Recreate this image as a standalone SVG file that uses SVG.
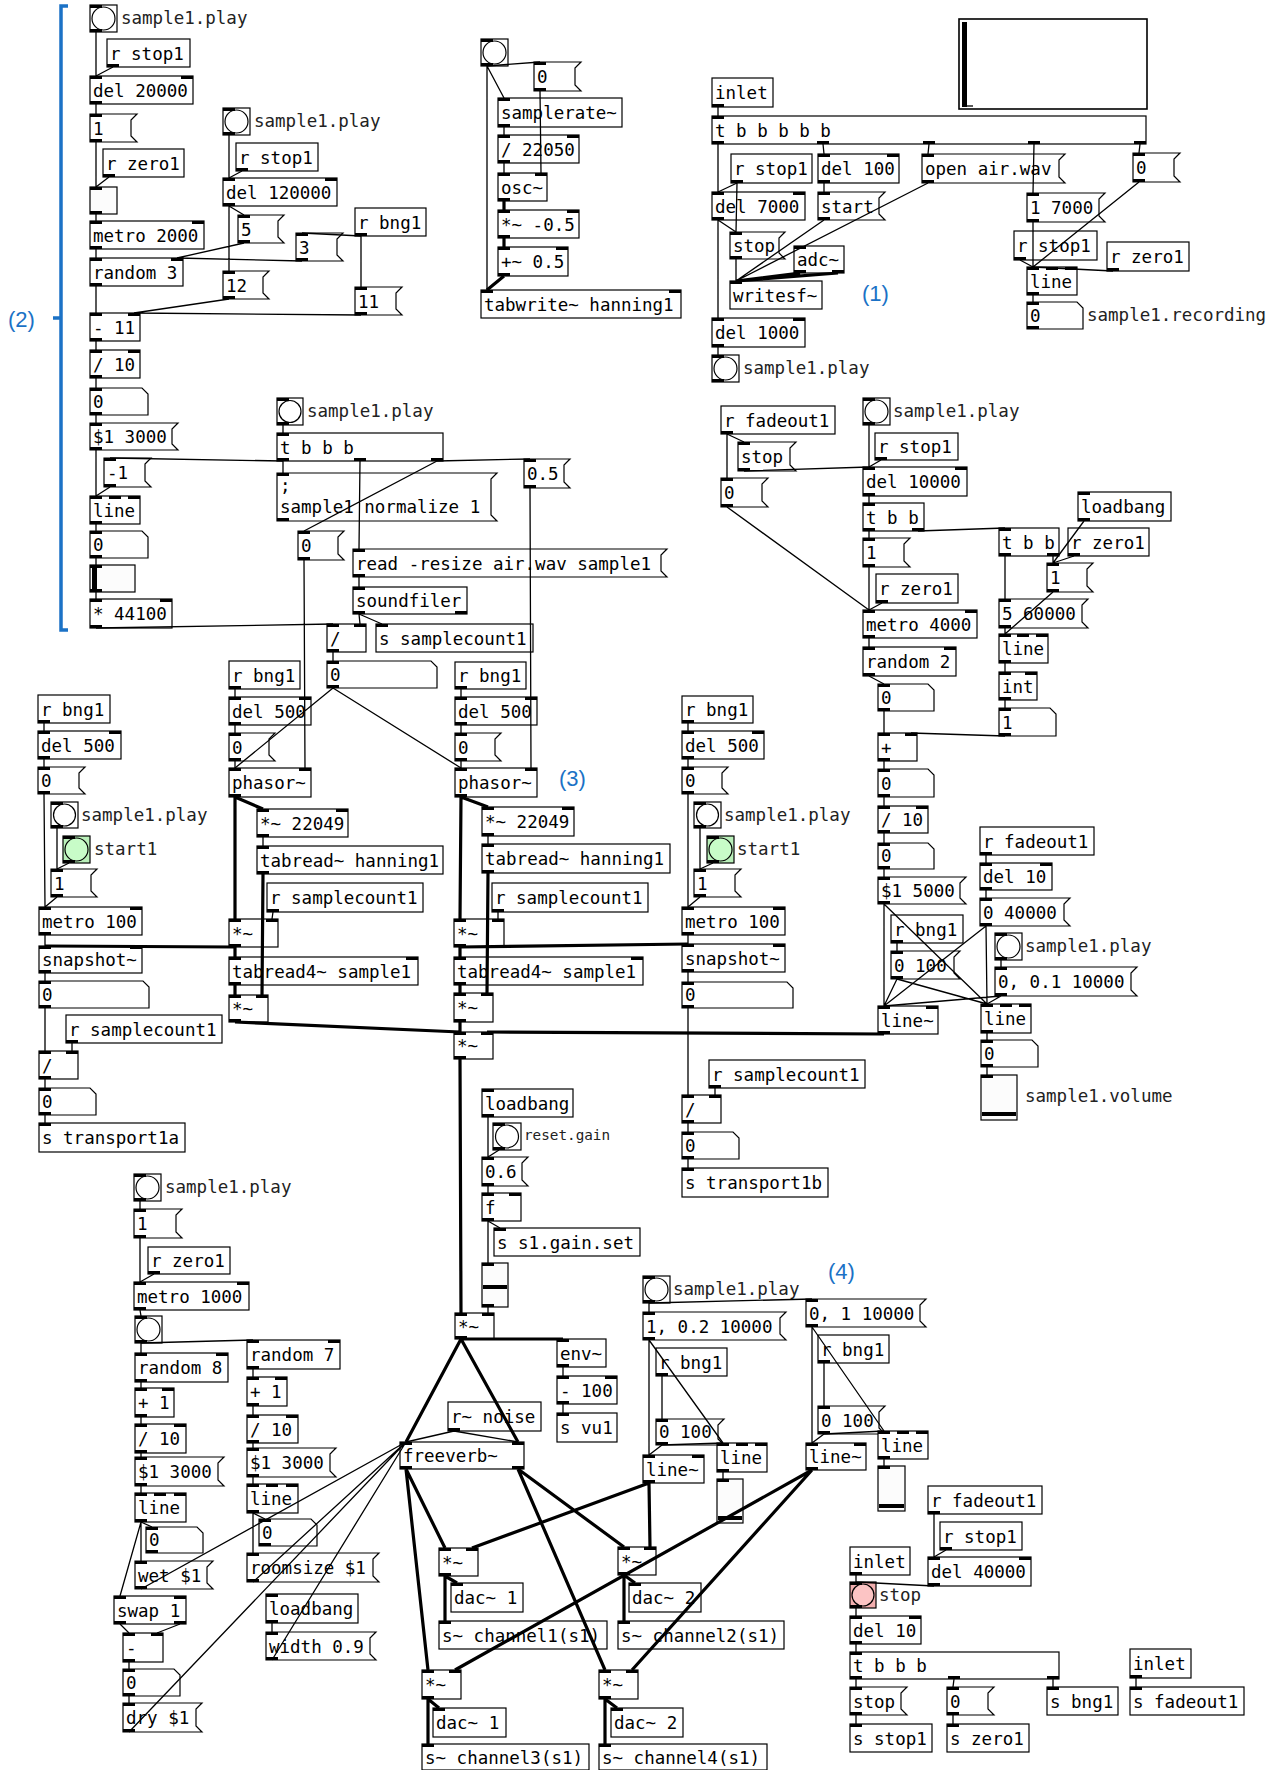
<svg xmlns="http://www.w3.org/2000/svg" xmlns:xlink="http://www.w3.org/1999/xlink" width="1283" height="1770" viewBox="0 0 1283 1770">
<style>
.o{fill:#fff;stroke:#000;stroke-width:1.2}
.i{fill:#000}
text{font-family:"DejaVu Sans Mono","Liberation Mono",monospace;font-size:17.5px;fill:#000}
.l{fill:#222}
.sm{font-size:14.3px}
.c{stroke:#000;stroke-width:1.3;fill:none}
.s{stroke:#000;stroke-width:3.2;fill:none}
.n{fill:#1b72c6;font-family:"Liberation Sans",Arial,sans-serif;font-size:22px}
.gb{fill:#b9efb9;stroke:#000;stroke-width:1.2}
.gc{fill:#c8fcc8;stroke:#000;stroke-width:1.2}
.rb{fill:#f2aeae;stroke:#000;stroke-width:1.2}
.rc{fill:#fcc4c4;stroke:#000;stroke-width:1.2}
</style>
<defs><rect id="p" class="i" width="12" height="3"/></defs>
<rect width="1283" height="1770" fill="#fff"/>
<g id="annotations">
<path d="M68 6H61V630H68M53 318H61" stroke="#1b72c6" stroke-width="3.5" fill="none"/>
<text class="n" x="8" y="327">(2)</text>
<text class="n" x="862" y="301">(1)</text>
<text class="n" x="559" y="786">(3)</text>
<text class="n" x="828" y="1279">(4)</text>
</g>
<g id="nodes">
<g id="n1"><rect class="o" x="90" y="5" width="27" height="27"/><circle class="o" cx="103.5" cy="18.5" r="11.5"/><use href="#p" x="90" y="5"/><use href="#p" x="90" y="29"/><text class="l" x="121" y="24">sample1.play</text></g>
<g id="n2"><rect class="o" x="107" y="39" width="83" height="28"/><text x="110" y="60">r stop1</text><use href="#p" x="107" y="64"/></g>
<g id="n3"><rect class="o" x="90" y="76" width="103" height="28"/><text x="93" y="97">del 20000</text><use href="#p" x="90" y="76"/><use href="#p" x="181" y="76"/><use href="#p" x="90" y="101"/></g>
<g id="n4"><path class="o" d="M90 114h47l-6 6v16l6 6H90z"/><text x="93" y="135">1</text><use href="#p" x="90" y="114"/><use href="#p" x="90" y="139"/></g>
<g id="n5"><rect class="o" x="103" y="149" width="81" height="28"/><text x="106" y="170">r zero1</text><use href="#p" x="103" y="174"/></g>
<g id="n6"><rect class="o" x="90" y="187" width="27" height="27" style="fill:#fcfcfc"/><use href="#p" x="90" y="187"/><use href="#p" x="90" y="211"/></g>
<g id="n7"><rect class="o" x="90" y="221" width="114" height="28"/><text x="93" y="242">metro 2000</text><use href="#p" x="90" y="221"/><use href="#p" x="192" y="221"/><use href="#p" x="90" y="246"/></g>
<g id="n8"><rect class="o" x="90" y="258" width="93" height="28"/><text x="93" y="279">random 3</text><use href="#p" x="90" y="258"/><use href="#p" x="171" y="258"/><use href="#p" x="90" y="283"/></g>
<g id="n9"><rect class="o" x="223" y="108" width="27" height="27"/><circle class="o" cx="236.5" cy="121.5" r="11.5"/><use href="#p" x="223" y="108"/><use href="#p" x="223" y="132"/><text class="l" x="254" y="127">sample1.play</text></g>
<g id="n10"><rect class="o" x="236" y="143" width="82" height="28"/><text x="239" y="164">r stop1</text><use href="#p" x="236" y="168"/></g>
<g id="n11"><rect class="o" x="223" y="178" width="114" height="28"/><text x="226" y="199">del 120000</text><use href="#p" x="223" y="178"/><use href="#p" x="325" y="178"/><use href="#p" x="223" y="203"/></g>
<g id="n12"><path class="o" d="M238 215h46l-6 6v16l6 6H238z"/><text x="241" y="236">5</text><use href="#p" x="238" y="215"/><use href="#p" x="238" y="240"/></g>
<g id="n13"><rect class="o" x="355" y="208" width="71" height="28"/><text x="358" y="229">r bng1</text><use href="#p" x="355" y="233"/></g>
<g id="n14"><path class="o" d="M296 233h47l-6 6v16l6 6H296z"/><text x="299" y="254">3</text><use href="#p" x="296" y="233"/><use href="#p" x="296" y="258"/></g>
<g id="n15"><path class="o" d="M223 271h46l-6 6v16l6 6H223z"/><text x="226" y="292">12</text><use href="#p" x="223" y="271"/><use href="#p" x="223" y="296"/></g>
<g id="n16"><path class="o" d="M355 287h47l-6 6v16l6 6H355z"/><text x="358" y="308">11</text><use href="#p" x="355" y="287"/><use href="#p" x="355" y="312"/></g>
<g id="n17"><rect class="o" x="90" y="313" width="50" height="28"/><text x="93" y="334">- 11</text><use href="#p" x="90" y="313"/><use href="#p" x="128" y="313"/><use href="#p" x="90" y="338"/></g>
<g id="n18"><rect class="o" x="90" y="350" width="50" height="28"/><text x="93" y="371">/ 10</text><use href="#p" x="90" y="350"/><use href="#p" x="128" y="350"/><use href="#p" x="90" y="375"/></g>
<g id="n19"><path class="o" d="M90 388h52l6 6v21H90z"/><text x="93" y="408">0</text><use href="#p" x="90" y="388"/><use href="#p" x="90" y="412"/></g>
<g id="n20"><path class="o" d="M90 423h88l-6 6v15l6 6H90z"/><text x="93" y="443">$1 3000</text><use href="#p" x="90" y="423"/><use href="#p" x="90" y="447"/></g>
<g id="n21"><path class="o" d="M104 458h47l-6 6v17l6 6H104z"/><text x="107" y="479">-1</text><use href="#p" x="104" y="458"/><use href="#p" x="104" y="484"/></g>
<g id="n22"><rect class="o" x="90" y="496" width="50" height="28"/><text x="93" y="517">line</text><use href="#p" x="90" y="496"/><use href="#p" x="109" y="496"/><use href="#p" x="128" y="496"/><use href="#p" x="90" y="521"/></g>
<g id="n23"><path class="o" d="M90 531h52l6 6v21H90z"/><text x="93" y="551">0</text><use href="#p" x="90" y="531"/><use href="#p" x="90" y="555"/></g>
<g id="n24"><rect class="o" x="90" y="565" width="45" height="27" style="fill:#fcfcfc"/><rect class="i" x="92" y="566" width="5" height="25"/><use href="#p" x="90" y="565"/><use href="#p" x="90" y="589"/></g>
<g id="n25"><rect class="o" x="90" y="599" width="82" height="29"/><text x="93" y="620">* 44100</text><use href="#p" x="90" y="599"/><use href="#p" x="160" y="599"/><use href="#p" x="90" y="625"/></g>
<g id="n26"><rect class="o" x="277" y="398" width="26" height="27"/><circle class="o" cx="290" cy="411.5" r="11"/><use href="#p" x="277" y="398"/><use href="#p" x="277" y="422"/><text class="l" x="307" y="417">sample1.play</text></g>
<g id="n27"><rect class="o" x="277" y="433" width="166" height="28"/><text x="280" y="454">t b b b</text><use href="#p" x="277" y="433"/><use href="#p" x="277" y="458"/><use href="#p" x="354" y="458"/><use href="#p" x="431" y="458"/></g>
<g id="n28"><path class="o" d="M277 473h220l-6 6v36l6 6H277z"/><text x="280" y="492">;</text><text x="280" y="513">sample1 normalize 1</text><use href="#p" x="277" y="473"/><use href="#p" x="277" y="518"/></g>
<g id="n29"><path class="o" d="M298 531h46l-6 6v17l6 6H298z"/><text x="301" y="552">0</text><use href="#p" x="298" y="531"/><use href="#p" x="298" y="557"/></g>
<g id="n30"><path class="o" d="M353 549h314l-6 6v16l6 6H353z"/><text x="356" y="570">read -resize air.wav sample1</text><use href="#p" x="353" y="549"/><use href="#p" x="353" y="574"/></g>
<g id="n31"><rect class="o" x="353" y="587" width="114" height="27"/><text x="356" y="607">soundfiler</text><use href="#p" x="353" y="587"/><use href="#p" x="353" y="611"/><use href="#p" x="455" y="611"/></g>
<g id="n32"><rect class="o" x="327" y="624" width="39" height="28"/><text x="330" y="645">/</text><use href="#p" x="327" y="624"/><use href="#p" x="354" y="624"/><use href="#p" x="327" y="649"/></g>
<g id="n33"><rect class="o" x="376" y="624" width="157" height="28"/><text x="379" y="645">s samplecount1</text><use href="#p" x="376" y="624"/></g>
<g id="n34"><path class="o" d="M327 661h104l6 6v21H327z"/><text x="330" y="681">0</text><use href="#p" x="327" y="661"/><use href="#p" x="327" y="685"/></g>
<g id="n35"><path class="o" d="M524 459h46l-6 6v17l6 6H524z"/><text x="527" y="480">0.5</text><use href="#p" x="524" y="459"/><use href="#p" x="524" y="485"/></g>
<g id="n36"><rect class="o" x="229" y="661" width="71" height="28"/><text x="232" y="682">r bng1</text><use href="#p" x="229" y="686"/></g>
<g id="n37"><rect class="o" x="229" y="697" width="82" height="28"/><text x="232" y="718">del 500</text><use href="#p" x="229" y="697"/><use href="#p" x="299" y="697"/><use href="#p" x="229" y="722"/></g>
<g id="n38"><path class="o" d="M229 733h46l-6 6v16l6 6H229z"/><text x="232" y="754">0</text><use href="#p" x="229" y="733"/><use href="#p" x="229" y="758"/></g>
<g id="n39"><rect class="o" x="229" y="768" width="82" height="29"/><text x="232" y="789">phasor~</text><use href="#p" x="229" y="768"/><use href="#p" x="299" y="768"/><use href="#p" x="229" y="794"/></g>
<g id="n40"><rect class="o" x="257" y="809" width="91" height="28"/><text x="260" y="830">*~ 22049</text><use href="#p" x="257" y="809"/><use href="#p" x="336" y="809"/><use href="#p" x="257" y="834"/></g>
<g id="n41"><rect class="o" x="257" y="846" width="186" height="28"/><text x="260" y="867">tabread~ hanning1</text><use href="#p" x="257" y="846"/><use href="#p" x="257" y="871"/></g>
<g id="n42"><rect class="o" x="267" y="883" width="156" height="29"/><text x="270" y="904">r samplecount1</text><use href="#p" x="267" y="909"/></g>
<g id="n43"><rect class="o" x="229" y="919" width="49" height="28"/><text x="232" y="940">*~</text><use href="#p" x="229" y="919"/><use href="#p" x="266" y="919"/><use href="#p" x="229" y="944"/></g>
<g id="n44"><rect class="o" x="229" y="957" width="189" height="28"/><text x="232" y="978">tabread4~ sample1</text><use href="#p" x="229" y="957"/><use href="#p" x="406" y="957"/><use href="#p" x="229" y="982"/></g>
<g id="n45"><rect class="o" x="229" y="995" width="39" height="27"/><text x="232" y="1015">*~</text><use href="#p" x="229" y="995"/><use href="#p" x="256" y="995"/><use href="#p" x="229" y="1019"/></g>
<g id="n46"><rect class="o" x="38" y="695" width="72" height="28"/><text x="41" y="716">r bng1</text><use href="#p" x="38" y="720"/></g>
<g id="n47"><rect class="o" x="38" y="731" width="83" height="28"/><text x="41" y="752">del 500</text><use href="#p" x="38" y="731"/><use href="#p" x="109" y="731"/><use href="#p" x="38" y="756"/></g>
<g id="n48"><path class="o" d="M38 767h47l-6 6v15l6 6H38z"/><text x="41" y="787">0</text><use href="#p" x="38" y="767"/><use href="#p" x="38" y="791"/></g>
<g id="n49"><rect class="o" x="51" y="802" width="27" height="26"/><circle class="o" cx="64.5" cy="815" r="11"/><use href="#p" x="51" y="802"/><use href="#p" x="51" y="825"/><text class="l" x="81" y="821">sample1.play</text></g>
<g id="n50"><rect class="gb" x="63" y="836" width="27" height="27"/><circle class="gc" cx="76.5" cy="849.5" r="11.5"/><use href="#p" x="63" y="836"/><use href="#p" x="63" y="860"/><text class="l" x="94" y="855">start1</text></g>
<g id="n51"><path class="o" d="M51 869h46l-6 6v16l6 6H51z"/><text x="54" y="890">1</text><use href="#p" x="51" y="869"/><use href="#p" x="51" y="894"/></g>
<g id="n52"><rect class="o" x="39" y="907" width="103" height="28"/><text x="42" y="928">metro 100</text><use href="#p" x="39" y="907"/><use href="#p" x="130" y="907"/><use href="#p" x="39" y="932"/></g>
<g id="n53"><rect class="o" x="39" y="946" width="103" height="27"/><text x="42" y="966">snapshot~</text><use href="#p" x="39" y="946"/><use href="#p" x="130" y="946"/><use href="#p" x="39" y="970"/></g>
<g id="n54"><path class="o" d="M39 981h104l6 6v21H39z"/><text x="42" y="1001">0</text><use href="#p" x="39" y="981"/><use href="#p" x="39" y="1005"/></g>
<g id="n55"><rect class="o" x="66" y="1015" width="156" height="28"/><text x="69" y="1036">r samplecount1</text><use href="#p" x="66" y="1040"/></g>
<g id="n56"><rect class="o" x="39" y="1051" width="39" height="28"/><text x="42" y="1072">/</text><use href="#p" x="39" y="1051"/><use href="#p" x="66" y="1051"/><use href="#p" x="39" y="1076"/></g>
<g id="n57"><path class="o" d="M39 1088h51l6 6v21H39z"/><text x="42" y="1108">0</text><use href="#p" x="39" y="1088"/><use href="#p" x="39" y="1112"/></g>
<g id="n58"><rect class="o" x="39" y="1123" width="146" height="29"/><text x="42" y="1144">s transport1a</text><use href="#p" x="39" y="1123"/></g>
<g id="n59"><rect class="o" x="455" y="662" width="71" height="27"/><text x="458" y="682">r bng1</text><use href="#p" x="455" y="686"/></g>
<g id="n60"><rect class="o" x="455" y="697" width="82" height="28"/><text x="458" y="718">del 500</text><use href="#p" x="455" y="697"/><use href="#p" x="525" y="697"/><use href="#p" x="455" y="722"/></g>
<g id="n61"><path class="o" d="M455 733h46l-6 6v16l6 6H455z"/><text x="458" y="754">0</text><use href="#p" x="455" y="733"/><use href="#p" x="455" y="758"/></g>
<g id="n62"><rect class="o" x="455" y="768" width="82" height="29"/><text x="458" y="789">phasor~</text><use href="#p" x="455" y="768"/><use href="#p" x="525" y="768"/><use href="#p" x="455" y="794"/></g>
<g id="n63"><rect class="o" x="482" y="807" width="92" height="29"/><text x="485" y="828">*~ 22049</text><use href="#p" x="482" y="807"/><use href="#p" x="562" y="807"/><use href="#p" x="482" y="833"/></g>
<g id="n64"><rect class="o" x="482" y="844" width="188" height="29"/><text x="485" y="865">tabread~ hanning1</text><use href="#p" x="482" y="844"/><use href="#p" x="482" y="870"/></g>
<g id="n65"><rect class="o" x="492" y="883" width="156" height="29"/><text x="495" y="904">r samplecount1</text><use href="#p" x="492" y="909"/></g>
<g id="n66"><rect class="o" x="454" y="919" width="50" height="28"/><text x="457" y="940">*~</text><use href="#p" x="454" y="919"/><use href="#p" x="492" y="919"/><use href="#p" x="454" y="944"/></g>
<g id="n67"><rect class="o" x="454" y="957" width="189" height="28"/><text x="457" y="978">tabread4~ sample1</text><use href="#p" x="454" y="957"/><use href="#p" x="631" y="957"/><use href="#p" x="454" y="982"/></g>
<g id="n68"><rect class="o" x="454" y="993" width="39" height="29"/><text x="457" y="1014">*~</text><use href="#p" x="454" y="993"/><use href="#p" x="481" y="993"/><use href="#p" x="454" y="1019"/></g>
<g id="n69"><rect class="o" x="454" y="1032" width="39" height="27"/><text x="457" y="1052">*~</text><use href="#p" x="454" y="1032"/><use href="#p" x="481" y="1032"/><use href="#p" x="454" y="1056"/></g>
<g id="n70"><rect class="o" x="682" y="696" width="71" height="27"/><text x="685" y="716">r bng1</text><use href="#p" x="682" y="720"/></g>
<g id="n71"><rect class="o" x="682" y="731" width="82" height="28"/><text x="685" y="752">del 500</text><use href="#p" x="682" y="731"/><use href="#p" x="752" y="731"/><use href="#p" x="682" y="756"/></g>
<g id="n72"><path class="o" d="M682 767h46l-6 6v15l6 6H682z"/><text x="685" y="787">0</text><use href="#p" x="682" y="767"/><use href="#p" x="682" y="791"/></g>
<g id="n73"><rect class="o" x="694" y="802" width="27" height="26"/><circle class="o" cx="707.5" cy="815" r="11"/><use href="#p" x="694" y="802"/><use href="#p" x="694" y="825"/><text class="l" x="724" y="821">sample1.play</text></g>
<g id="n74"><rect class="gb" x="707" y="836" width="27" height="27"/><circle class="gc" cx="720.5" cy="849.5" r="11.5"/><use href="#p" x="707" y="836"/><use href="#p" x="707" y="860"/><text class="l" x="737" y="855">start1</text></g>
<g id="n75"><path class="o" d="M694 869h47l-6 6v16l6 6H694z"/><text x="697" y="890">1</text><use href="#p" x="694" y="869"/><use href="#p" x="694" y="894"/></g>
<g id="n76"><rect class="o" x="682" y="907" width="103" height="28"/><text x="685" y="928">metro 100</text><use href="#p" x="682" y="907"/><use href="#p" x="773" y="907"/><use href="#p" x="682" y="932"/></g>
<g id="n77"><rect class="o" x="682" y="944" width="103" height="28"/><text x="685" y="965">snapshot~</text><use href="#p" x="682" y="944"/><use href="#p" x="773" y="944"/><use href="#p" x="682" y="969"/></g>
<g id="n78"><path class="o" d="M682 982h105l6 6v20H682z"/><text x="685" y="1001">0</text><use href="#p" x="682" y="982"/><use href="#p" x="682" y="1005"/></g>
<g id="n79"><rect class="o" x="709" y="1060" width="156" height="28"/><text x="712" y="1081">r samplecount1</text><use href="#p" x="709" y="1085"/></g>
<g id="n80"><rect class="o" x="682" y="1095" width="39" height="28"/><text x="685" y="1116">/</text><use href="#p" x="682" y="1095"/><use href="#p" x="709" y="1095"/><use href="#p" x="682" y="1120"/></g>
<g id="n81"><path class="o" d="M682 1132h51l6 6v21H682z"/><text x="685" y="1152">0</text><use href="#p" x="682" y="1132"/><use href="#p" x="682" y="1156"/></g>
<g id="n82"><rect class="o" x="682" y="1168" width="146" height="29"/><text x="685" y="1189">s transport1b</text><use href="#p" x="682" y="1168"/></g>
<g id="n83"><rect class="o" x="482" y="1089" width="91" height="28"/><text x="485" y="1110">loadbang</text><use href="#p" x="482" y="1089"/><use href="#p" x="482" y="1114"/></g>
<g id="n84"><rect class="o" x="493" y="1123" width="28" height="27"/><circle class="o" cx="507" cy="1136.5" r="11.5"/><use href="#p" x="493" y="1123"/><use href="#p" x="493" y="1147"/><text class="l sm" x="524" y="1140">reset.gain</text></g>
<g id="n85"><path class="o" d="M482 1157h46l-6 6v17l6 6H482z"/><text x="485" y="1178">0.6</text><use href="#p" x="482" y="1157"/><use href="#p" x="482" y="1183"/></g>
<g id="n86"><rect class="o" x="482" y="1193" width="39" height="28"/><text x="485" y="1214">f</text><use href="#p" x="482" y="1193"/><use href="#p" x="509" y="1193"/><use href="#p" x="482" y="1218"/></g>
<g id="n87"><rect class="o" x="494" y="1228" width="146" height="28"/><text x="497" y="1249">s s1.gain.set</text><use href="#p" x="494" y="1228"/></g>
<g id="n88"><rect class="o" x="482" y="1263" width="26" height="44" style="fill:#fcfcfc"/><rect class="i" x="483" y="1285" width="24" height="4"/><use href="#p" x="482" y="1263"/><use href="#p" x="482" y="1304"/></g>
<g id="n89"><rect class="o" x="455" y="1313" width="39" height="26"/><text x="458" y="1333">*~</text><use href="#p" x="455" y="1313"/><use href="#p" x="482" y="1313"/><use href="#p" x="455" y="1336"/></g>
<g id="n90"><rect class="o" x="557" y="1339" width="49" height="28"/><text x="560" y="1360">env~</text><use href="#p" x="557" y="1339"/><use href="#p" x="557" y="1364"/></g>
<g id="n91"><rect class="o" x="557" y="1376" width="60" height="28"/><text x="560" y="1397">- 100</text><use href="#p" x="557" y="1376"/><use href="#p" x="605" y="1376"/><use href="#p" x="557" y="1401"/></g>
<g id="n92"><rect class="o" x="557" y="1413" width="60" height="29"/><text x="560" y="1434">s vu1</text><use href="#p" x="557" y="1413"/></g>
<g id="n93"><rect class="o" x="448" y="1402" width="93" height="29"/><text x="451" y="1423">r~ noise</text><use href="#p" x="448" y="1428"/></g>
<g id="n94"><rect class="o" x="400" y="1442" width="124" height="27"/><text x="403" y="1462">freeverb~</text><use href="#p" x="400" y="1442"/><use href="#p" x="512" y="1442"/><use href="#p" x="400" y="1466"/><use href="#p" x="512" y="1466"/></g>
<g id="n95"><rect class="o" x="481" y="39" width="27" height="27"/><circle class="o" cx="494.5" cy="52.5" r="11.5"/><use href="#p" x="481" y="39"/><use href="#p" x="481" y="63"/></g>
<g id="n96"><path class="o" d="M534 62h47l-6 6v17l6 6H534z"/><text x="537" y="83">0</text><use href="#p" x="534" y="62"/><use href="#p" x="534" y="88"/></g>
<g id="n97"><rect class="o" x="498" y="98" width="124" height="29"/><text x="501" y="119">samplerate~</text><use href="#p" x="498" y="98"/><use href="#p" x="498" y="124"/></g>
<g id="n98"><rect class="o" x="498" y="135" width="81" height="28"/><text x="501" y="156">/ 22050</text><use href="#p" x="498" y="135"/><use href="#p" x="567" y="135"/><use href="#p" x="498" y="160"/></g>
<g id="n99"><rect class="o" x="498" y="173" width="49" height="28"/><text x="501" y="194">osc~</text><use href="#p" x="498" y="173"/><use href="#p" x="535" y="173"/><use href="#p" x="498" y="198"/></g>
<g id="n100"><rect class="o" x="498" y="210" width="81" height="28"/><text x="501" y="231">*~ -0.5</text><use href="#p" x="498" y="210"/><use href="#p" x="567" y="210"/><use href="#p" x="498" y="235"/></g>
<g id="n101"><rect class="o" x="498" y="247" width="70" height="29"/><text x="501" y="268">+~ 0.5</text><use href="#p" x="498" y="247"/><use href="#p" x="556" y="247"/><use href="#p" x="498" y="273"/></g>
<g id="n102"><rect class="o" x="481" y="290" width="200" height="28"/><text x="484" y="311">tabwrite~ hanning1</text><use href="#p" x="481" y="290"/><use href="#p" x="669" y="290"/></g>
<g id="n103"><rect class="o" x="712" y="78" width="61" height="29"/><text x="715" y="99">inlet</text><use href="#p" x="712" y="104"/></g>
<g id="n104"><rect class="o" x="712" y="116" width="434" height="28"/><text x="715" y="137">t b b b b b</text><use href="#p" x="712" y="116"/><use href="#p" x="712" y="141"/><use href="#p" x="817" y="141"/><use href="#p" x="923" y="141"/><use href="#p" x="1028" y="141"/><use href="#p" x="1134" y="141"/></g>
<g id="n105"><rect class="o" x="731" y="154" width="81" height="29"/><text x="734" y="175">r stop1</text><use href="#p" x="731" y="180"/></g>
<g id="n106"><rect class="o" x="818" y="154" width="81" height="29"/><text x="821" y="175">del 100</text><use href="#p" x="818" y="154"/><use href="#p" x="887" y="154"/><use href="#p" x="818" y="180"/></g>
<g id="n107"><rect class="o" x="712" y="192" width="93" height="28"/><text x="715" y="213">del 7000</text><use href="#p" x="712" y="192"/><use href="#p" x="793" y="192"/><use href="#p" x="712" y="217"/></g>
<g id="n108"><path class="o" d="M818 192h67l-6 6v16l6 6H818z"/><text x="821" y="213">start</text><use href="#p" x="818" y="192"/><use href="#p" x="818" y="217"/></g>
<g id="n109"><path class="o" d="M922 154h143l-6 6v17l6 6H922z"/><text x="925" y="175">open air.wav</text><use href="#p" x="922" y="154"/><use href="#p" x="922" y="180"/></g>
<g id="n110"><path class="o" d="M1133 153h47l-6 6v17l6 6H1133z"/><text x="1136" y="174">0</text><use href="#p" x="1133" y="153"/><use href="#p" x="1133" y="179"/></g>
<g id="n111"><path class="o" d="M730 232h55l-6 6v15l6 6H730z"/><text x="733" y="252">stop</text><use href="#p" x="730" y="232"/><use href="#p" x="730" y="256"/></g>
<g id="n112"><rect class="o" x="794" y="246" width="50" height="27"/><text x="797" y="266">adc~</text><use href="#p" x="794" y="246"/><use href="#p" x="794" y="270"/><use href="#p" x="832" y="270"/></g>
<g id="n113"><rect class="o" x="730" y="281" width="92" height="28"/><text x="733" y="302">writesf~</text><use href="#p" x="730" y="281"/></g>
<g id="n114"><rect class="o" x="712" y="318" width="93" height="29"/><text x="715" y="339">del 1000</text><use href="#p" x="712" y="318"/><use href="#p" x="793" y="318"/><use href="#p" x="712" y="344"/></g>
<g id="n115"><rect class="o" x="712" y="355" width="27" height="27"/><circle class="o" cx="725.5" cy="368.5" r="11.5"/><use href="#p" x="712" y="355"/><use href="#p" x="712" y="379"/><text class="l" x="743" y="374">sample1.play</text></g>
<g id="n116"><path class="o" d="M1027 193h78l-6 6v17l6 6H1027z"/><text x="1030" y="214">1 7000</text><use href="#p" x="1027" y="193"/><use href="#p" x="1027" y="219"/></g>
<g id="n117"><rect class="o" x="1014" y="231" width="83" height="29"/><text x="1017" y="252">r stop1</text><use href="#p" x="1014" y="257"/></g>
<g id="n118"><rect class="o" x="1107" y="242" width="82" height="29"/><text x="1110" y="263">r zero1</text><use href="#p" x="1107" y="268"/></g>
<g id="n119"><rect class="o" x="1027" y="267" width="50" height="28"/><text x="1030" y="288">line</text><use href="#p" x="1027" y="267"/><use href="#p" x="1046" y="267"/><use href="#p" x="1065" y="267"/><use href="#p" x="1027" y="292"/></g>
<g id="n120"><path class="o" d="M1027 302h50l6 6v21H1027z"/><text x="1030" y="322">0</text><use href="#p" x="1027" y="302"/><use href="#p" x="1027" y="326"/><text class="l" x="1087" y="321">sample1.recording</text></g>
<g id="n121"><rect class="o" x="959" y="19" width="188" height="90" style="stroke-width:1.6"/><rect class="i" x="962" y="22" width="5" height="85"/><path d="M967 106H973" class="c"/></g>
<g id="n122"><rect class="o" x="721" y="406" width="114" height="28"/><text x="724" y="427">r fadeout1</text><use href="#p" x="721" y="431"/></g>
<g id="n123"><path class="o" d="M738 442h58l-6 6v17l6 6H738z"/><text x="741" y="463">stop</text><use href="#p" x="738" y="442"/><use href="#p" x="738" y="468"/></g>
<g id="n124"><path class="o" d="M721 478h47l-6 6v17l6 6H721z"/><text x="724" y="499">0</text><use href="#p" x="721" y="478"/><use href="#p" x="721" y="504"/></g>
<g id="n125"><rect class="o" x="863" y="398" width="27" height="27"/><circle class="o" cx="876.5" cy="411.5" r="11.5"/><use href="#p" x="863" y="398"/><use href="#p" x="863" y="422"/><text class="l" x="893" y="417">sample1.play</text></g>
<g id="n126"><rect class="o" x="875" y="433" width="83" height="27"/><text x="878" y="453">r stop1</text><use href="#p" x="875" y="457"/></g>
<g id="n127"><rect class="o" x="863" y="467" width="104" height="29"/><text x="866" y="488">del 10000</text><use href="#p" x="863" y="467"/><use href="#p" x="955" y="467"/><use href="#p" x="863" y="493"/></g>
<g id="n128"><rect class="o" x="863" y="503" width="61" height="28"/><text x="866" y="524">t b b</text><use href="#p" x="863" y="503"/><use href="#p" x="863" y="528"/><use href="#p" x="912" y="528"/></g>
<g id="n129"><path class="o" d="M863 538h47l-6 6v17l6 6H863z"/><text x="866" y="559">1</text><use href="#p" x="863" y="538"/><use href="#p" x="863" y="564"/></g>
<g id="n130"><rect class="o" x="876" y="574" width="82" height="29"/><text x="879" y="595">r zero1</text><use href="#p" x="876" y="600"/></g>
<g id="n131"><rect class="o" x="863" y="610" width="114" height="28"/><text x="866" y="631">metro 4000</text><use href="#p" x="863" y="610"/><use href="#p" x="965" y="610"/><use href="#p" x="863" y="635"/></g>
<g id="n132"><rect class="o" x="863" y="647" width="93" height="29"/><text x="866" y="668">random 2</text><use href="#p" x="863" y="647"/><use href="#p" x="944" y="647"/><use href="#p" x="863" y="673"/></g>
<g id="n133"><path class="o" d="M878 684h50l6 6v21H878z"/><text x="881" y="704">0</text><use href="#p" x="878" y="684"/><use href="#p" x="878" y="708"/></g>
<g id="n134"><rect class="o" x="878" y="733" width="39" height="28"/><text x="881" y="754">+</text><use href="#p" x="878" y="733"/><use href="#p" x="905" y="733"/><use href="#p" x="878" y="758"/></g>
<g id="n135"><path class="o" d="M878 769h50l6 6v22H878z"/><text x="881" y="790">0</text><use href="#p" x="878" y="769"/><use href="#p" x="878" y="794"/></g>
<g id="n136"><rect class="o" x="878" y="806" width="50" height="27"/><text x="881" y="826">/ 10</text><use href="#p" x="878" y="806"/><use href="#p" x="916" y="806"/><use href="#p" x="878" y="830"/></g>
<g id="n137"><path class="o" d="M878 843h50l6 6v20H878z"/><text x="881" y="862">0</text><use href="#p" x="878" y="843"/><use href="#p" x="878" y="866"/></g>
<g id="n138"><path class="o" d="M878 877h88l-6 6v15l6 6H878z"/><text x="881" y="897">$1 5000</text><use href="#p" x="878" y="877"/><use href="#p" x="878" y="901"/></g>
<g id="n139"><rect class="o" x="1078" y="492" width="93" height="29"/><text x="1081" y="513">loadbang</text><use href="#p" x="1078" y="492"/><use href="#p" x="1078" y="518"/></g>
<g id="n140"><rect class="o" x="999" y="528" width="60" height="28"/><text x="1002" y="549">t b b</text><use href="#p" x="999" y="528"/><use href="#p" x="999" y="553"/><use href="#p" x="1047" y="553"/></g>
<g id="n141"><rect class="o" x="1068" y="528" width="81" height="28"/><text x="1071" y="549">r zero1</text><use href="#p" x="1068" y="553"/></g>
<g id="n142"><path class="o" d="M1047 563h46l-6 6v17l6 6H1047z"/><text x="1050" y="584">1</text><use href="#p" x="1047" y="563"/><use href="#p" x="1047" y="589"/></g>
<g id="n143"><path class="o" d="M999 599h89l-6 6v17l6 6H999z"/><text x="1002" y="620">5 60000</text><use href="#p" x="999" y="599"/><use href="#p" x="999" y="625"/></g>
<g id="n144"><rect class="o" x="999" y="634" width="49" height="29"/><text x="1002" y="655">line</text><use href="#p" x="999" y="634"/><use href="#p" x="1017" y="634"/><use href="#p" x="1036" y="634"/><use href="#p" x="999" y="660"/></g>
<g id="n145"><rect class="o" x="999" y="672" width="38" height="28"/><text x="1002" y="693">int</text><use href="#p" x="999" y="672"/><use href="#p" x="1025" y="672"/><use href="#p" x="999" y="697"/></g>
<g id="n146"><path class="o" d="M999 708h51l6 6v22H999z"/><text x="1002" y="729">1</text><use href="#p" x="999" y="708"/><use href="#p" x="999" y="733"/></g>
<g id="n147"><rect class="o" x="980" y="827" width="114" height="28"/><text x="983" y="848">r fadeout1</text><use href="#p" x="980" y="852"/></g>
<g id="n148"><rect class="o" x="980" y="863" width="72" height="27"/><text x="983" y="883">del 10</text><use href="#p" x="980" y="863"/><use href="#p" x="1040" y="863"/><use href="#p" x="980" y="887"/></g>
<g id="n149"><path class="o" d="M980 898h90l-6 6v16l6 6H980z"/><text x="983" y="919">0 40000</text><use href="#p" x="980" y="898"/><use href="#p" x="980" y="923"/></g>
<g id="n150"><rect class="o" x="891" y="915" width="72" height="28"/><text x="894" y="936">r bng1</text><use href="#p" x="891" y="940"/></g>
<g id="n151"><path class="o" d="M891 951h69l-6 6v16l6 6H891z"/><text x="894" y="972">0 100</text><use href="#p" x="891" y="951"/><use href="#p" x="891" y="976"/></g>
<g id="n152"><rect class="o" x="995" y="933" width="27" height="27"/><circle class="o" cx="1008.5" cy="946.5" r="11.5"/><use href="#p" x="995" y="933"/><use href="#p" x="995" y="957"/><text class="l" x="1025" y="952">sample1.play</text></g>
<g id="n153"><path class="o" d="M995 967h142l-6 6v17l6 6H995z"/><text x="998" y="988">0, 0.1 10000</text><use href="#p" x="995" y="967"/><use href="#p" x="995" y="993"/></g>
<g id="n154"><rect class="o" x="878" y="1006" width="60" height="28"/><text x="881" y="1027">line~</text><use href="#p" x="878" y="1006"/><use href="#p" x="926" y="1006"/><use href="#p" x="878" y="1031"/></g>
<g id="n155"><rect class="o" x="981" y="1004" width="50" height="29"/><text x="984" y="1025">line</text><use href="#p" x="981" y="1004"/><use href="#p" x="1000" y="1004"/><use href="#p" x="1019" y="1004"/><use href="#p" x="981" y="1030"/></g>
<g id="n156"><path class="o" d="M981 1040h51l6 6v21H981z"/><text x="984" y="1060">0</text><use href="#p" x="981" y="1040"/><use href="#p" x="981" y="1064"/></g>
<g id="n157"><rect class="o" x="981" y="1075" width="36" height="45" style="fill:#fcfcfc"/><rect class="i" x="982" y="1112" width="34" height="4"/><use href="#p" x="981" y="1075"/><text class="l" x="1025" y="1102">sample1.volume</text></g>
<g id="n158"><rect class="o" x="134" y="1174" width="27" height="27"/><circle class="o" cx="147.5" cy="1187.5" r="11.5"/><use href="#p" x="134" y="1174"/><use href="#p" x="134" y="1198"/><text class="l" x="165" y="1193">sample1.play</text></g>
<g id="n159"><path class="o" d="M134 1209h48l-6 6v17l6 6H134z"/><text x="137" y="1230">1</text><use href="#p" x="134" y="1209"/><use href="#p" x="134" y="1235"/></g>
<g id="n160"><rect class="o" x="148" y="1247" width="82" height="27"/><text x="151" y="1267">r zero1</text><use href="#p" x="148" y="1271"/></g>
<g id="n161"><rect class="o" x="134" y="1282" width="115" height="28"/><text x="137" y="1303">metro 1000</text><use href="#p" x="134" y="1282"/><use href="#p" x="237" y="1282"/><use href="#p" x="134" y="1307"/></g>
<g id="n162"><rect class="o" x="135" y="1316" width="27" height="27"/><circle class="o" cx="148.5" cy="1329.5" r="11.5"/><use href="#p" x="135" y="1316"/><use href="#p" x="135" y="1340"/></g>
<g id="n163"><rect class="o" x="135" y="1353" width="93" height="29"/><text x="138" y="1374">random 8</text><use href="#p" x="135" y="1353"/><use href="#p" x="216" y="1353"/><use href="#p" x="135" y="1379"/></g>
<g id="n164"><rect class="o" x="247" y="1340" width="93" height="29"/><text x="250" y="1361">random 7</text><use href="#p" x="247" y="1340"/><use href="#p" x="328" y="1340"/><use href="#p" x="247" y="1366"/></g>
<g id="n165"><rect class="o" x="135" y="1388" width="39" height="29"/><text x="138" y="1409">+ 1</text><use href="#p" x="135" y="1388"/><use href="#p" x="162" y="1388"/><use href="#p" x="135" y="1414"/></g>
<g id="n166"><rect class="o" x="135" y="1424" width="51" height="29"/><text x="138" y="1445">/ 10</text><use href="#p" x="135" y="1424"/><use href="#p" x="174" y="1424"/><use href="#p" x="135" y="1450"/></g>
<g id="n167"><path class="o" d="M135 1457h89l-6 6v17l6 6H135z"/><text x="138" y="1478">$1 3000</text><use href="#p" x="135" y="1457"/><use href="#p" x="135" y="1483"/></g>
<g id="n168"><rect class="o" x="135" y="1493" width="51" height="29"/><text x="138" y="1514">line</text><use href="#p" x="135" y="1493"/><use href="#p" x="154" y="1493"/><use href="#p" x="174" y="1493"/><use href="#p" x="135" y="1519"/></g>
<g id="n169"><path class="o" d="M146 1527h51l6 6v20H146z"/><text x="149" y="1546">0</text><use href="#p" x="146" y="1527"/><use href="#p" x="146" y="1550"/></g>
<g id="n170"><path class="o" d="M135 1561h78l-6 6v16l6 6H135z"/><text x="138" y="1582">wet $1</text><use href="#p" x="135" y="1561"/><use href="#p" x="135" y="1586"/></g>
<g id="n171"><rect class="o" x="114" y="1596" width="72" height="28"/><text x="117" y="1617">swap 1</text><use href="#p" x="114" y="1596"/><use href="#p" x="174" y="1596"/><use href="#p" x="114" y="1621"/><use href="#p" x="174" y="1621"/></g>
<g id="n172"><rect class="o" x="123" y="1633" width="40" height="29"/><text x="126" y="1654">-</text><use href="#p" x="123" y="1633"/><use href="#p" x="151" y="1633"/><use href="#p" x="123" y="1659"/></g>
<g id="n173"><path class="o" d="M123 1669h51l6 6v21H123z"/><text x="126" y="1689">0</text><use href="#p" x="123" y="1669"/><use href="#p" x="123" y="1693"/></g>
<g id="n174"><path class="o" d="M123 1703h79l-6 6v17l6 6H123z"/><text x="126" y="1724">dry $1</text><use href="#p" x="123" y="1703"/><use href="#p" x="123" y="1729"/></g>
<g id="n175"><rect class="o" x="247" y="1377" width="40" height="29"/><text x="250" y="1398">+ 1</text><use href="#p" x="247" y="1377"/><use href="#p" x="275" y="1377"/><use href="#p" x="247" y="1403"/></g>
<g id="n176"><rect class="o" x="247" y="1415" width="51" height="28"/><text x="250" y="1436">/ 10</text><use href="#p" x="247" y="1415"/><use href="#p" x="286" y="1415"/><use href="#p" x="247" y="1440"/></g>
<g id="n177"><path class="o" d="M247 1448h89l-6 6v17l6 6H247z"/><text x="250" y="1469">$1 3000</text><use href="#p" x="247" y="1448"/><use href="#p" x="247" y="1474"/></g>
<g id="n178"><rect class="o" x="247" y="1484" width="51" height="29"/><text x="250" y="1505">line</text><use href="#p" x="247" y="1484"/><use href="#p" x="266" y="1484"/><use href="#p" x="286" y="1484"/><use href="#p" x="247" y="1510"/></g>
<g id="n179"><path class="o" d="M259 1519h52l6 6v21H259z"/><text x="262" y="1539">0</text><use href="#p" x="259" y="1519"/><use href="#p" x="259" y="1543"/></g>
<g id="n180"><path class="o" d="M247 1553h132l-6 6v17l6 6H247z"/><text x="250" y="1574">roomsize $1</text><use href="#p" x="247" y="1553"/><use href="#p" x="247" y="1579"/></g>
<g id="n181"><rect class="o" x="266" y="1594" width="92" height="29"/><text x="269" y="1615">loadbang</text><use href="#p" x="266" y="1594"/><use href="#p" x="266" y="1620"/></g>
<g id="n182"><path class="o" d="M266 1632h110l-6 6v16l6 6H266z"/><text x="269" y="1653">width 0.9</text><use href="#p" x="266" y="1632"/><use href="#p" x="266" y="1657"/></g>
<g id="n183"><rect class="o" x="439" y="1548" width="39" height="28"/><text x="442" y="1569">*~</text><use href="#p" x="439" y="1548"/><use href="#p" x="466" y="1548"/><use href="#p" x="439" y="1573"/></g>
<g id="n184"><rect class="o" x="451" y="1583" width="72" height="29"/><text x="454" y="1604">dac~ 1</text><use href="#p" x="451" y="1583"/></g>
<g id="n185"><rect class="o" x="439" y="1621" width="168" height="28"/><text x="442" y="1642">s~ channel1(s1)</text><use href="#p" x="439" y="1621"/></g>
<g id="n186"><rect class="o" x="618" y="1547" width="38" height="28"/><text x="621" y="1568">*~</text><use href="#p" x="618" y="1547"/><use href="#p" x="644" y="1547"/><use href="#p" x="618" y="1572"/></g>
<g id="n187"><rect class="o" x="629" y="1583" width="72" height="29"/><text x="632" y="1604">dac~ 2</text><use href="#p" x="629" y="1583"/></g>
<g id="n188"><rect class="o" x="618" y="1621" width="166" height="28"/><text x="621" y="1642">s~ channel2(s1)</text><use href="#p" x="618" y="1621"/></g>
<g id="n189"><rect class="o" x="422" y="1670" width="39" height="29"/><text x="425" y="1691">*~</text><use href="#p" x="422" y="1670"/><use href="#p" x="449" y="1670"/><use href="#p" x="422" y="1696"/></g>
<g id="n190"><rect class="o" x="433" y="1708" width="73" height="29"/><text x="436" y="1729">dac~ 1</text><use href="#p" x="433" y="1708"/></g>
<g id="n191"><rect class="o" x="422" y="1744" width="167" height="26"/><text x="425" y="1764">s~ channel3(s1)</text><use href="#p" x="422" y="1744"/></g>
<g id="n192"><rect class="o" x="599" y="1670" width="39" height="29"/><text x="602" y="1691">*~</text><use href="#p" x="599" y="1670"/><use href="#p" x="626" y="1670"/><use href="#p" x="599" y="1696"/></g>
<g id="n193"><rect class="o" x="611" y="1708" width="72" height="29"/><text x="614" y="1729">dac~ 2</text><use href="#p" x="611" y="1708"/></g>
<g id="n194"><rect class="o" x="599" y="1744" width="168" height="26"/><text x="602" y="1764">s~ channel4(s1)</text><use href="#p" x="599" y="1744"/></g>
<g id="n195"><rect class="o" x="643" y="1276" width="27" height="27"/><circle class="o" cx="656.5" cy="1289.5" r="11.5"/><use href="#p" x="643" y="1276"/><use href="#p" x="643" y="1300"/><text class="l" x="673" y="1295">sample1.play</text></g>
<g id="n196"><path class="o" d="M643 1312h143l-6 6v16l6 6H643z"/><text x="646" y="1333">1, 0.2 10000</text><use href="#p" x="643" y="1312"/><use href="#p" x="643" y="1337"/></g>
<g id="n197"><rect class="o" x="656" y="1348" width="71" height="28"/><text x="659" y="1369">r bng1</text><use href="#p" x="656" y="1373"/></g>
<g id="n198"><path class="o" d="M656 1419h68l-6 6v14l6 6H656z"/><text x="659" y="1438">0 100</text><use href="#p" x="656" y="1419"/><use href="#p" x="656" y="1442"/></g>
<g id="n199"><rect class="o" x="643" y="1455" width="61" height="28"/><text x="646" y="1476">line~</text><use href="#p" x="643" y="1455"/><use href="#p" x="692" y="1455"/><use href="#p" x="643" y="1480"/></g>
<g id="n200"><rect class="o" x="717" y="1443" width="50" height="29"/><text x="720" y="1464">line</text><use href="#p" x="717" y="1443"/><use href="#p" x="736" y="1443"/><use href="#p" x="755" y="1443"/><use href="#p" x="717" y="1469"/></g>
<g id="n201"><rect class="o" x="717" y="1479" width="26" height="44" style="fill:#fcfcfc"/><rect class="i" x="718" y="1516" width="24" height="4"/><use href="#p" x="717" y="1479"/></g>
<g id="n202"><path class="o" d="M806 1299h120l-6 6v16l6 6H806z"/><text x="809" y="1320">0, 1 10000</text><use href="#p" x="806" y="1299"/><use href="#p" x="806" y="1324"/></g>
<g id="n203"><rect class="o" x="818" y="1335" width="71" height="28"/><text x="821" y="1356">r bng1</text><use href="#p" x="818" y="1360"/></g>
<g id="n204"><path class="o" d="M818 1406h67l-6 6v16l6 6H818z"/><text x="821" y="1427">0 100</text><use href="#p" x="818" y="1406"/><use href="#p" x="818" y="1431"/></g>
<g id="n205"><rect class="o" x="806" y="1443" width="60" height="27"/><text x="809" y="1463">line~</text><use href="#p" x="806" y="1443"/><use href="#p" x="854" y="1443"/><use href="#p" x="806" y="1467"/></g>
<g id="n206"><rect class="o" x="878" y="1431" width="50" height="28"/><text x="881" y="1452">line</text><use href="#p" x="878" y="1431"/><use href="#p" x="897" y="1431"/><use href="#p" x="916" y="1431"/><use href="#p" x="878" y="1456"/></g>
<g id="n207"><rect class="o" x="878" y="1466" width="27" height="45" style="fill:#fcfcfc"/><rect class="i" x="879" y="1504" width="25" height="4"/><use href="#p" x="878" y="1466"/></g>
<g id="n208"><rect class="o" x="928" y="1486" width="114" height="28"/><text x="931" y="1507">r fadeout1</text><use href="#p" x="928" y="1511"/></g>
<g id="n209"><rect class="o" x="940" y="1522" width="82" height="28"/><text x="943" y="1543">r stop1</text><use href="#p" x="940" y="1547"/></g>
<g id="n210"><rect class="o" x="928" y="1557" width="103" height="29"/><text x="931" y="1578">del 40000</text><use href="#p" x="928" y="1557"/><use href="#p" x="1019" y="1557"/><use href="#p" x="928" y="1583"/></g>
<g id="n211"><rect class="o" x="850" y="1547" width="60" height="28"/><text x="853" y="1568">inlet</text><use href="#p" x="850" y="1572"/></g>
<g id="n212"><rect class="rb" x="850" y="1582" width="26" height="26"/><circle class="rc" cx="863" cy="1595" r="11"/><use href="#p" x="850" y="1582"/><use href="#p" x="850" y="1605"/><text class="l" x="879" y="1601">stop</text></g>
<g id="n213"><rect class="o" x="850" y="1616" width="71" height="28"/><text x="853" y="1637">del 10</text><use href="#p" x="850" y="1616"/><use href="#p" x="909" y="1616"/><use href="#p" x="850" y="1641"/></g>
<g id="n214"><rect class="o" x="850" y="1652" width="209" height="27"/><text x="853" y="1672">t b b b</text><use href="#p" x="850" y="1652"/><use href="#p" x="850" y="1676"/><use href="#p" x="948" y="1676"/><use href="#p" x="1047" y="1676"/></g>
<g id="n215"><path class="o" d="M850 1687h57l-6 6v16l6 6H850z"/><text x="853" y="1708">stop</text><use href="#p" x="850" y="1687"/><use href="#p" x="850" y="1712"/></g>
<g id="n216"><rect class="o" x="850" y="1724" width="82" height="28"/><text x="853" y="1745">s stop1</text><use href="#p" x="850" y="1724"/></g>
<g id="n217"><path class="o" d="M947 1687h47l-6 6v16l6 6H947z"/><text x="950" y="1708">0</text><use href="#p" x="947" y="1687"/><use href="#p" x="947" y="1712"/></g>
<g id="n218"><rect class="o" x="947" y="1724" width="82" height="28"/><text x="950" y="1745">s zero1</text><use href="#p" x="947" y="1724"/></g>
<g id="n219"><rect class="o" x="1047" y="1687" width="71" height="28"/><text x="1050" y="1708">s bng1</text><use href="#p" x="1047" y="1687"/></g>
<g id="n220"><rect class="o" x="1130" y="1649" width="61" height="29"/><text x="1133" y="1670">inlet</text><use href="#p" x="1130" y="1675"/></g>
<g id="n221"><rect class="o" x="1130" y="1687" width="114" height="28"/><text x="1133" y="1708">s fadeout1</text><use href="#p" x="1130" y="1687"/></g>
</g>
<g id="connectors">
<path class="c" d="M96 32L96 76M113 67L96 76M96 104L96 114M96 142L96 187M109 177L96 187M96 214L96 221M96 249L96 258M96 286L96 313M229 135L229 178M242 171L229 178M229 206L244 215M229 206L229 271M244 243L177 258M302 261L177 258M361 236L302 233M361 236L361 287M229 299L134 313M361 315L134 313M96 341L96 350M96 378L96 388M96 415L96 423M96 450L96 496M110 487L96 496M283 461L110 458M96 524L96 531M96 558L96 565M96 592L96 599M283 425L283 433M283 461L283 473M360 461L359 549M437 461L304 531M437 461L530 459M359 577L359 587M96 628L333 624M359 614L360 624M359 614L382 624M333 652L333 661M333 688L235 768M333 688L461 768M304 560L305 768M530 488L531 768"/>
<path class="c" d="M235 689L235 697M235 725L235 733M235 761L235 768M263 837L263 846M273 912L272 919M44 723L44 731M44 759L44 767M44 794L45 907M57 828L57 869M69 863L57 869M57 897L45 907M45 935L45 946M45 973L45 981M45 1008L45 1051M72 1043L72 1051M45 1079L45 1088M45 1115L45 1123"/>
<path class="c" d="M461 689L461 697M461 725L461 733M461 761L461 768M488 836L488 844M498 912L498 919M688 723L688 731M688 759L688 767M688 794L688 907M700 828L700 869M713 863L700 869M700 897L688 907M688 935L688 944M688 972L688 982M688 1008L688 1095M715 1088L715 1095M688 1123L688 1132M688 1159L688 1168"/>
<path class="c" d="M488 1117L488 1157M499 1150L488 1157M488 1186L488 1193M488 1221L500 1228M488 1221L488 1263M488 1307L488 1313M563 1367L563 1376M563 1404L563 1413M454 1431L406 1442M454 1431L518 1442"/>
<path class="c" d="M487 66L540 62M487 66L504 98M487 66L487 290M540 91L541 173M504 127L504 135M504 163L504 173"/>
<path class="c" d="M718 107L718 116M718 144L718 192M737 183L718 192M737 183L736 232M718 220L736 232M718 220L718 318M823 144L824 154M824 183L824 192M824 220L736 281M929 144L928 154M928 183L736 281M736 259L736 281M1034 144L1033 193M1140 144L1139 153M1033 222L1033 267M1139 182L1033 267M1020 260L1033 267M1113 271L1033 267M1033 295L1033 302M718 347L718 355"/>
<path class="c" d="M727 434L744 442M727 434L727 478M744 471L869 467M727 507L869 610M869 425L869 467M881 460L869 467M869 496L869 503M869 531L869 538M918 531L1005 528M869 567L869 610M882 603L869 610M869 638L869 647M869 676L884 684M884 711L884 733M1005 736L911 733M884 761L884 769M884 797L884 806M884 833L884 843M884 869L884 877M1084 521L1053 563M1005 556L1005 599M1053 556L1053 563M1074 556L1053 563M1053 592L1005 634M1005 628L1005 634M1005 663L1005 672M1005 700L1005 708M986 855L986 863M986 890L986 898M897 943L897 951M1001 960L1001 967M884 904L884 1006M884 904L987 1004M897 979L884 1006M897 979L987 1004M986 926L884 1006M986 926L987 1004M1001 996L884 1006M1001 996L987 1004M987 1033L987 1040M987 1067L987 1075"/>
<path class="c" d="M140 1201L140 1209M140 1238L140 1282M154 1274L140 1282M140 1310L141 1316M141 1343L141 1353M141 1343L253 1340M141 1382L141 1388M141 1417L141 1424M141 1453L141 1457M141 1486L141 1493M141 1522L152 1527M141 1522L141 1561M141 1522L120 1596M120 1624L129 1633M180 1624L157 1633M129 1662L129 1669M129 1696L129 1703M253 1369L253 1377M253 1406L253 1415M253 1443L253 1448M253 1477L253 1484M253 1513L265 1519M253 1513L253 1553M272 1623L272 1632M141 1589L406 1442M253 1582L406 1442M272 1660L406 1442M129 1732L406 1442"/>
<path class="c" d="M649 1303L649 1312M649 1303L812 1299M649 1340L649 1455M649 1340L723 1443M662 1376L662 1419M662 1445L649 1455M662 1445L723 1443M723 1472L723 1479M812 1327L812 1443M812 1327L884 1431M824 1363L824 1406M824 1434L812 1443M824 1434L884 1431M884 1459L884 1466"/>
<path class="c" d="M934 1514L934 1557M946 1550L934 1557M934 1586L856 1582M856 1575L856 1582M856 1608L856 1616M856 1644L856 1652M856 1679L856 1687M856 1715L856 1724M954 1679L953 1687M953 1715L953 1724M1053 1679L1053 1687M1136 1678L1136 1687"/>
<path class="s" d="M235 797L263 809M235 797L235 919M263 874L262 995M235 947L235 957M235 947L45 946M235 985L235 995M235 1022L460 1032M461 797L488 807M461 797L460 919M488 873L487 993M460 947L460 957M460 947L688 944M460 985L460 993M460 1022L460 1032M884 1034L487 1032M460 1059L461 1313M461 1339L563 1339M461 1339L406 1442M461 1339L518 1442"/>
<path class="s" d="M504 201L504 210M504 238L504 247M504 276L487 290M800 273L736 281M838 273L736 281"/>
<path class="s" d="M649 1483L472 1548M649 1483L650 1547M812 1470L455 1670M812 1470L632 1670M406 1469L445 1548M406 1469L428 1670M518 1469L624 1547M518 1469L605 1670M445 1576L457 1583M445 1576L445 1621M624 1575L635 1583M624 1575L624 1621M428 1699L439 1708M428 1699L428 1744M605 1699L617 1708M605 1699L605 1744"/>
</g>
</svg>
